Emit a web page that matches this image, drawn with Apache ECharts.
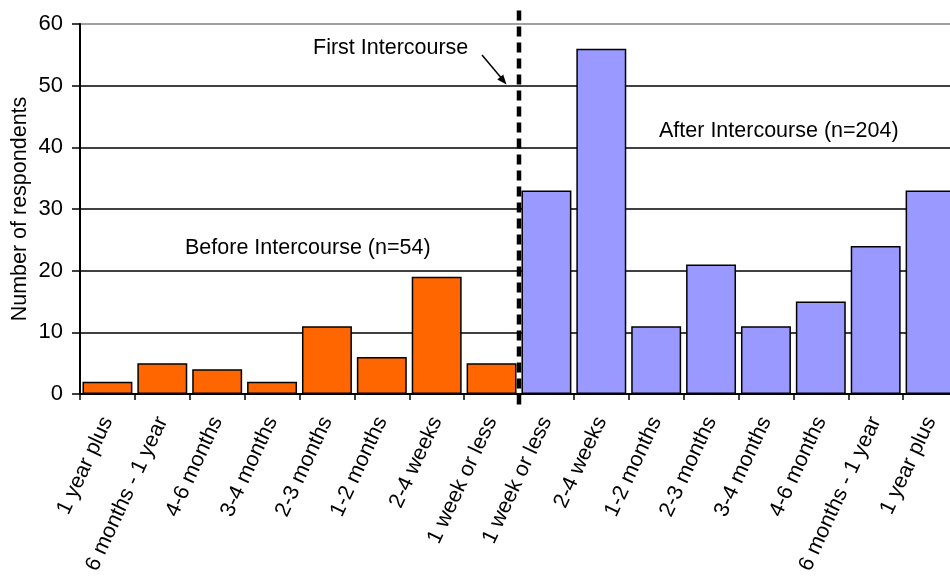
<!DOCTYPE html>
<html>
<head>
<meta charset="utf-8">
<script src="https://cdn.jsdelivr.net/npm/echarts@6/dist/echarts.min.js"></script>
<style>
html,body{margin:0;padding:0;background:#fff;}
#chart{width:950px;height:577px;}
</style>
</head>
<body>
<div id="chart"></div>
<script>
const categories = ['1 year plus','6 months - 1 year','4-6 months','3-4 months','2-3 months','1-2 months','2-4 weeks','1 week or less',
                    '1 week or less','2-4 weeks','1-2 months','2-3 months','3-4 months','4-6 months','6 months - 1 year','1 year plus'];
const beforeValues = [2,5,4,2,11,6,19,5];
const afterValues = [33,56,11,21,11,15,24,33];
const yTicks = [0,10,20,30,40,50,60];
const yAxisTitle = 'Number of respondents';
const beforeLabel = 'Before Intercourse (n=54)';
const afterLabel = 'After Intercourse (n=204)';
const dividerLabel = 'First Intercourse';
const dividerIndex = beforeValues.length; // boundary between groups

const FONT = '"Liberation Sans", Arial, sans-serif';
const blank = v => v.map(() => '-');

const chart = echarts.init(document.getElementById('chart'), null, {renderer:'canvas'});
const option = {
  animation: false,
  backgroundColor: '#fff',
  grid: {left: 80, top: 24, width: 878, height: 370, containLabel: false, outerBoundsMode: 'none'},
  xAxis: [{
    type: 'category',
    data: categories,
    boundaryGap: true,
    axisLine: {show: true, lineStyle: {color: '#000', width: 2}},
    axisTick: {show: true, length: 6, lineStyle: {color: '#000', width: 1.5}},
    axisLabel: {interval: 0, rotate: 65, color: '#000', fontSize: 21.5, fontFamily: FONT, margin: 24},
    splitLine: {show: false}
  }, {
    type: 'value', min: 0, max: categories.length, show: false
  }],
  yAxis: {
    type: 'value',
    min: yTicks[0], max: yTicks[yTicks.length-1], interval: 10,
    name: yAxisTitle,
    nameLocation: 'middle',
    nameGap: 49,
    nameMoveOverlap: false,
    nameTextStyle: {color: '#000', fontSize: 21.5, fontFamily: FONT},
    axisLine: {show: true, lineStyle: {color: '#000', width: 2}},
    axisTick: {show: true, length: 8, lineStyle: {color: '#000', width: 1.5}},
    axisLabel: {color: '#000', fontSize: 22, fontFamily: FONT, margin: 17},
    splitLine: {show: true, lineStyle: {color: ['#000','#000','#000','#000','#000','#000','#808080'], width: 1.5}}
  },
  series: [{
    type: 'bar',
    data: beforeValues.concat(blank(afterValues)),
    barGap: '-100%',
    barCategoryGap: '9%',
    itemStyle: {color: '#ff6600', borderColor: '#000', borderWidth: 1.5},
    z: 3
  }, {
    type: 'bar',
    data: blank(beforeValues).concat(afterValues),
    barGap: '-100%',
    barCategoryGap: '9%',
    itemStyle: {color: '#9999ff', borderColor: '#000', borderWidth: 1.5},
    z: 3
  }, {
    type: 'line',
    xAxisIndex: 1,
    data: [[dividerIndex, 62.2], [dividerIndex, -1.8]],
    symbol: 'none',
    clip: false,
    lineStyle: {color: '#000', width: 4.5, type: [10, 6]},
    z: 5
  }],
  graphic: [
    {type: 'text', left: 313, top: 37, style: {text: dividerLabel, fill: '#000', font: '21.5px ' + FONT}},
    {type: 'text', left: 185, top: 237, style: {text: beforeLabel, fill: '#000', font: '21.5px ' + FONT}},
    {type: 'text', left: 659, top: 120, style: {text: afterLabel, fill: '#000', font: '21.5px ' + FONT}},
    {type: 'line', shape: {x1: 482, y1: 55, x2: 503, y2: 80}, style: {stroke: '#000', lineWidth: 1.5}},
    {type: 'polygon', shape: {points: [[506.5,84.5],[497.3,79.6],[503.2,74.6]]}, style: {fill: '#000'}}
  ]
};
chart.setOption(option);
</script>
</body>
</html>
